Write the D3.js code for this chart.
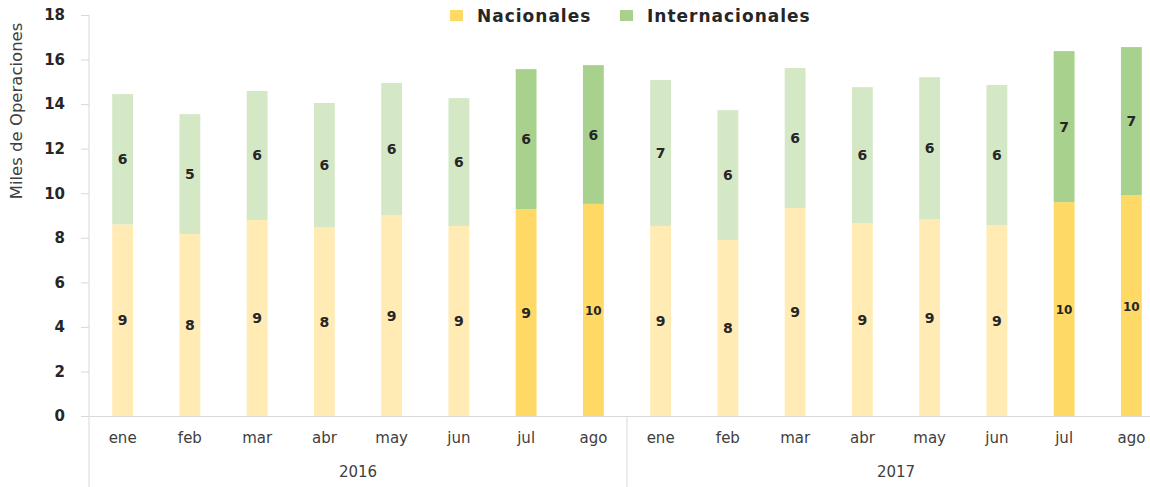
<!DOCTYPE html>
<html>
<head>
<meta charset="utf-8">
<script src="https://cdn.jsdelivr.net/npm/d3@7"></script>
<style>
  body { margin: 0; background: #fff; }
  svg { display: block; overflow: hidden; }
  text { font-family: "DejaVu Sans", sans-serif; }
</style>
</head>
<body>
<div id="grafico"></div>
<script>
// Datos (miles de operaciones)
const anios = ["2016", "2017"];
const meses = ["ene", "feb", "mar", "abr", "may", "jun", "jul", "ago"];
const nacionales = [8.6, 8.17, 8.8, 8.48, 9.02, 8.53, 9.29, 9.52,
                    8.53, 7.9, 9.34, 8.66, 8.84, 8.57, 9.6, 9.92];
const internacionales = [5.85, 5.38, 5.79, 5.57, 5.93, 5.74, 6.28, 6.23,
                         6.55, 5.83, 6.28, 6.1, 6.37, 6.29, 6.78, 6.64];
const mesesDestacados = ["jul", "ago"];
const yTicks = [0, 2, 4, 6, 8, 10, 12, 14, 16, 18];
const series = ["Nacionales", "Internacionales"];

const colores = { Nacionales: "#FFD966", Internacionales: "#A9D18E" };
const coloresSuaves = { Nacionales: "#FFEBB3", Internacionales: "#D4E8C6" };

const ancho = 1150, alto = 487;
const izq = 89, der = 1165, arriba = 15, base = 416;

const datos = [];
anios.forEach((a, i) => meses.forEach((m, j) => {
  const k = i * meses.length + j;
  datos.push({ id: a + "-" + m, anio: a, mes: m,
    Nacionales: nacionales[k], Internacionales: internacionales[k] });
}));

const svg = d3.select("#grafico").append("svg")
  .attr("width", ancho).attr("height", alto);

const x = d3.scaleBand()
  .domain(datos.map(d => d.id))
  .range([izq, der])
  .paddingInner(0.69)
  .paddingOuter(0.345);

const xAnio = d3.scaleBand().domain(anios).range([izq, der]);

const y = d3.scaleLinear().domain([0, 18]).range([base, arriba]);

const stack = d3.stack().keys(series)(datos);

// barras
const capas = svg.append("g").selectAll("g").data(stack).join("g");
capas.selectAll("rect")
  .data(s => s.map(p => ({ p, key: s.key })))
  .join("rect")
  .attr("x", d => x(d.p.data.id))
  .attr("width", x.bandwidth())
  .attr("y", d => y(d.p[1]))
  .attr("height", d => y(d.p[0]) - y(d.p[1]))
  .attr("fill", d => mesesDestacados.includes(d.p.data.mes) ? colores[d.key] : coloresSuaves[d.key]);

// etiquetas de valores
capas.selectAll("text")
  .data(s => s.map(p => ({ p, key: s.key })))
  .join("text")
  .attr("x", d => x(d.p.data.id) + x.bandwidth() / 2)
  .attr("y", d => (y(d.p[0]) + y(d.p[1])) / 2 + 5)
  .attr("text-anchor", "middle")
  .attr("font-weight", "bold")
  .attr("font-size", d => Math.round(d.p.data[d.key]) >= 10 ? 12 : 14)
  .attr("fill", "#262626")
  .text(d => Math.round(d.p.data[d.key]));

// eje Y
const yAs = svg.append("g")
  .attr("transform", `translate(${izq},0)`)
  .call(d3.axisLeft(y).tickValues(yTicks).tickSize(8).tickPadding(16));
yAs.select(".domain").remove();
yAs.selectAll(".tick line").attr("stroke", "#d9d9d9");
yAs.selectAll(".tick text")
  .attr("font-size", 15).attr("font-weight", "bold")
  .attr("fill", "#262626").style("font-family", "DejaVu Sans, sans-serif");

svg.append("line")
  .attr("x1", izq).attr("x2", izq)
  .attr("y1", arriba).attr("y2", alto)
  .attr("stroke", "#d9d9d9");

svg.append("text")
  .attr("transform", `translate(22,111) rotate(-90)`)
  .attr("text-anchor", "middle")
  .attr("font-size", 16.5)
  .attr("fill", "#404040")
  .text("Miles de Operaciones");

// eje X (meses)
const xAs = svg.append("g")
  .attr("transform", `translate(0,${base})`)
  .call(d3.axisBottom(x).tickSize(0).tickPadding(16).tickFormat(id => id.split("-")[1]));
xAs.select(".domain").attr("stroke", "#d9d9d9");
xAs.selectAll(".tick text")
  .attr("font-size", 15).attr("fill", "#404040")
  .style("font-family", "DejaVu Sans, sans-serif");

// eje X (años)
const anioAs = svg.append("g")
  .attr("transform", `translate(0,${base})`)
  .call(d3.axisBottom(xAnio).tickSize(0).tickPadding(50));
anioAs.select(".domain").remove();
anioAs.selectAll(".tick text")
  .attr("font-size", 15).attr("fill", "#404040")
  .style("font-family", "DejaVu Sans, sans-serif");

svg.append("g").selectAll("line")
  .data(anios.slice(1))
  .join("line")
  .attr("x1", d => xAnio(d)).attr("x2", d => xAnio(d))
  .attr("y1", base).attr("y2", alto)
  .attr("stroke", "#d9d9d9");

// leyenda
const leyenda = svg.append("g");
const posLeyenda = [450, 620];
series.forEach((s, i) => {
  leyenda.append("rect")
    .attr("x", posLeyenda[i]).attr("y", 10)
    .attr("width", 13).attr("height", 11)
    .attr("fill", colores[s]);
  leyenda.append("text")
    .attr("x", posLeyenda[i] + 27).attr("y", 22)
    .attr("font-size", 17).attr("font-weight", "bold")
    .attr("letter-spacing", 1)
    .attr("fill", "#262626")
    .text(s);
});
</script>
</body>
</html>
